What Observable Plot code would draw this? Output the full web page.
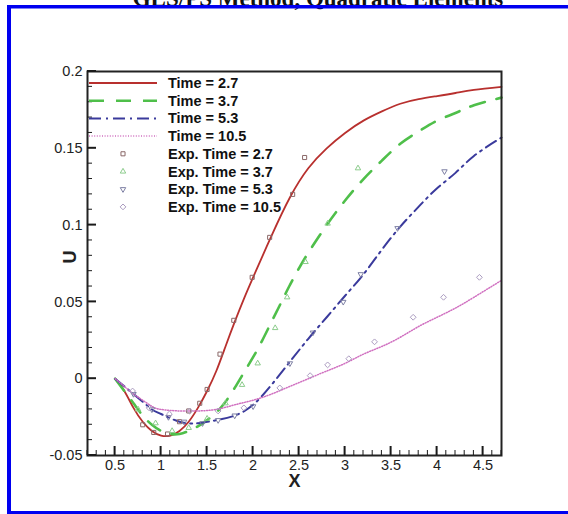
<!DOCTYPE html>
<html><head><meta charset="utf-8">
<script src="https://cdn.jsdelivr.net/npm/d3@7"></script>
<script src="https://cdn.jsdelivr.net/npm/@observablehq/plot@0.6"></script>
<style>
html,body{margin:0;padding:0;background:#fff;overflow:hidden;width:568px;height:514px}
#wrap{position:relative;width:568px;height:514px}
#wrap svg{position:absolute;left:0;top:0}
</style></head><body><div id="wrap"></div>
<script>
// ---- tick labels ----
const xTicks = [0.5, 1, 1.5, 2, 2.5, 3, 3.5, 4, 4.5];
const yTicks = [-0.05, 0, 0.05, 0.1, 0.15, 0.2];
const titleText = "GLS/PS Method, Quadratic Elements";

// ---- computed curves ----
const t27X = [0.5,0.6,0.7,0.8,0.9,1.0,1.1,1.2,1.3,1.4,1.5,1.6,1.7,1.8,1.9,2.0,2.2,2.4,2.6,2.8,3.0,3.2,3.4,3.6,3.8,4.0,4.2,4.4,4.7];
const t27U = [0,-0.008,-0.019,-0.028,-0.034,-0.037,-0.037,-0.034,-0.028,-0.019,-0.008,0.005,0.021,0.037,0.052,0.066,0.093,0.118,0.137,0.150,0.160,0.168,0.174,0.179,0.182,0.184,0.186,0.188,0.190];
const t37X = [0.5,0.6,0.7,0.8,0.9,1.0,1.1,1.2,1.3,1.4,1.5,1.6,1.7,1.8,1.9,2.0,2.1,2.2,2.3,2.4,2.5,2.6,2.8,3.0,3.2,3.4,3.6,3.8,4.0,4.2,4.4,4.7];
const t37U = [0,-0.008,-0.016,-0.024,-0.030,-0.034,-0.036,-0.036,-0.034,-0.031,-0.027,-0.022,-0.015,-0.006,0.004,0.014,0.025,0.037,0.049,0.061,0.072,0.082,0.100,0.116,0.130,0.142,0.153,0.161,0.168,0.173,0.178,0.183];
const t53X = [0.5,0.6,0.7,0.8,0.9,1.0,1.2,1.4,1.6,1.8,2.0,2.2,2.4,2.6,2.8,3.0,3.2,3.4,3.6,3.8,4.0,4.2,4.4,4.7];
const t53U = [0,-0.005,-0.010,-0.015,-0.020,-0.023,-0.028,-0.029,-0.027,-0.024,-0.017,-0.004,0.011,0.026,0.040,0.054,0.068,0.084,0.099,0.112,0.124,0.134,0.145,0.157];
const t105X = [0.5,0.6,0.7,0.8,0.9,1.0,1.2,1.4,1.6,1.8,2.0,2.2,2.4,2.6,2.8,3.0,3.2,3.4,3.6,3.8,4.0,4.2,4.4,4.7];
const t105U = [0,-0.005,-0.010,-0.014,-0.018,-0.020,-0.021,-0.021,-0.020,-0.017,-0.014,-0.010,-0.005,0.000,0.005,0.010,0.016,0.021,0.027,0.034,0.040,0.046,0.053,0.064];

// ---- experiments ----
const e27X = [0.8,0.92,1.07,1.2,1.3,1.42,1.5,1.64,1.79,1.99,2.18,2.43,2.56];
const e27U = [-0.030,-0.035,-0.036,-0.028,-0.021,-0.016,-0.007,0.016,0.038,0.066,0.092,0.120,0.144];
const e37X = [0.75,0.94,1.12,1.3,1.5,1.7,1.88,2.05,2.24,2.37,2.57,2.81,3.14];
const e37U = [-0.020,-0.029,-0.034,-0.032,-0.026,-0.016,-0.004,0.010,0.033,0.053,0.076,0.101,0.137];
const e53X = [0.7,0.9,1.08,1.25,1.45,1.62,1.8,2.0,2.4,2.65,2.98,3.17,3.57,4.08];
const e53U = [-0.010,-0.020,-0.025,-0.028,-0.029,-0.027,-0.024,-0.018,0.010,0.030,0.050,0.068,0.098,0.135];
const e105X = [0.69,0.87,1.09,1.31,1.62,1.9,2.29,2.62,2.81,3.04,3.32,3.74,4.07,4.46];
const e105U = [-0.008,-0.019,-0.023,-0.021,-0.021,-0.019,-0.006,0.002,0.009,0.013,0.024,0.040,0.053,0.066];

const zip = (xs, us) => xs.map((x, i) => ({x, u: us[i]}));

const series = [
  {label: "Time = 2.7",  data: zip(t27X, t27U),   stroke: "#b8302e", dash: null,        width: 1.8},
  {label: "Time = 3.7",  data: zip(t37X, t37U),   stroke: "#4fbf4a", dash: "15,12",     width: 2.6},
  {label: "Time = 5.3",  data: zip(t53X, t53U),   stroke: "#3a3a9c", dash: "12,5,2,5",  width: 2},
  {label: "Time = 10.5", data: zip(t105X, t105U), stroke: "#d070c0", dash: "1,1.6",     width: 1.5}
];
const exps = [
  {label: "Exp. Time = 2.7",  data: zip(e27X, e27U),   stroke: "#8a6868", symbol: "square2",  rotate: 0},
  {label: "Exp. Time = 3.7",  data: zip(e37X, e37U),   stroke: "#8ccc8c", symbol: "triangle2", rotate: 0},
  {label: "Exp. Time = 5.3",  data: zip(e53X, e53U),   stroke: "#7e80a4", symbol: "triangle2", rotate: 180},
  {label: "Exp. Time = 10.5", data: zip(e105X, e105U), stroke: "#ab9cc0", symbol: "diamond2", rotate: 0}
];

const fmt = d => String(+d.toFixed(2));
const minorX = d3.ticks(0.2, 4.7, 45).filter(v => !xTicks.some(t => Math.abs(t - v) < 1e-9));
const minorY = d3.ticks(-0.05, 0.2, 25).filter(v => !yTicks.some(t => Math.abs(t - v) < 1e-9));

const chart = Plot.plot({
  width: 568, height: 514,
  marginLeft: 87, marginRight: 67, marginTop: 71, marginBottom: 59,
  x: {domain: [0.2, 4.7], label: null},
  y: {domain: [-0.05, 0.2], label: null},
  style: {fontFamily: "'Liberation Sans', Arial, sans-serif", fontSize: "14.5px", color: "#222", background: "transparent"},
  marks: [
    ...series.map(s => Plot.line(s.data, {x: "x", y: "u", stroke: s.stroke, strokeWidth: s.width, strokeDasharray: s.dash, curve: "natural"})),
    ...exps.map(e => Plot.dot(e.data, {x: "x", y: "u", stroke: e.stroke, symbol: e.symbol, r: 2.6, strokeWidth: 1, rotate: e.rotate})),
    Plot.axisX(xTicks, {tickSize: 0, tickPadding: 4, tickFormat: fmt, label: null}),
    Plot.axisY(yTicks, {tickSize: 0, tickPadding: 5, tickFormat: fmt, label: null}),
    Plot.frame({stroke: "#222", strokeWidth: 2}),
    Plot.text(["X"], {text: d => d, frameAnchor: "bottom", dy: 31, fontWeight: "bold", fontSize: 18}),
    Plot.text(["U"], {text: d => d, frameAnchor: "left", dx: -17, rotate: -90, fontWeight: "bold", fontSize: 18})
  ]
});
document.getElementById("wrap").appendChild(chart);

const svg = d3.select(chart);
const xs = chart.scale("x"), ys = chart.scale("y");
const x0 = xs.apply(0.2), yb = ys.apply(-0.05);

// ---- inward ticks (major and minor) ----
const tg = svg.append("g");
const tick = (x1, y1, x2, y2, w) => tg.append("line").attr("x1", x1).attr("y1", y1).attr("x2", x2).attr("y2", y2)
  .attr("stroke", "#1a1a1a").attr("stroke-width", w);
minorX.forEach(v => tick(xs.apply(v), yb, xs.apply(v), yb - 5, 1));
xTicks.forEach(v => tick(xs.apply(v), yb, xs.apply(v), yb - 9, 2));
minorY.forEach(v => tick(x0, ys.apply(v), x0 + 5, ys.apply(v), 1));
yTicks.forEach(v => tick(x0, ys.apply(v), x0 + 9, ys.apply(v), 2));

// ---- legend ----
const lg = svg.append("g").attr("font-family", "'Liberation Sans', Arial, sans-serif").attr("font-size", 14.5)
  .attr("font-weight", "bold").attr("fill", "#111").attr("text-anchor", "start");
const rowY = i => 83 + i * 17.7;
series.forEach((s, i) => {
  lg.append("line").attr("x1", 89).attr("x2", 157).attr("y1", rowY(i)).attr("y2", rowY(i))
    .attr("stroke", s.stroke).attr("stroke-width", s.width).attr("stroke-dasharray", s.dash);
  lg.append("text").attr("x", 168).attr("y", rowY(i)).attr("dy", "0.35em").text(s.label);
});
const symMap = {square2: d3.symbolSquare2, triangle2: d3.symbolTriangle2, diamond2: d3.symbolDiamond2};
exps.forEach((e, j) => {
  const i = j + 4;
  lg.append("path").attr("d", d3.symbol(symMap[e.symbol], 2.6 * 2.6 * Math.PI)())
    .attr("transform", `translate(123,${rowY(i)}) rotate(${e.rotate})`)
    .attr("fill", "none").attr("stroke", e.stroke).attr("stroke-width", 1);
  lg.append("text").attr("x", 168).attr("y", rowY(i)).attr("dy", "0.35em").text(e.label);
});

// ---- clipped title and blue border ----
svg.append("text").attr("x", 318).attr("y", 6).attr("text-anchor", "middle")
  .attr("font-family", "'Liberation Serif', 'Times New Roman', serif").attr("font-weight", "bold").attr("font-size", 23)
  .attr("fill", "#111").text(titleText);
const blue = "#0000f0";
svg.append("rect").attr("x", 7).attr("y", 5).attr("width", 561).attr("height", 3.5).attr("fill", blue);
svg.append("rect").attr("x", 7).attr("y", 5).attr("width", 4).attr("height", 509).attr("fill", blue);
svg.append("rect").attr("x", 7).attr("y", 511).attr("width", 561).attr("height", 3).attr("fill", blue);
</script></body></html>
